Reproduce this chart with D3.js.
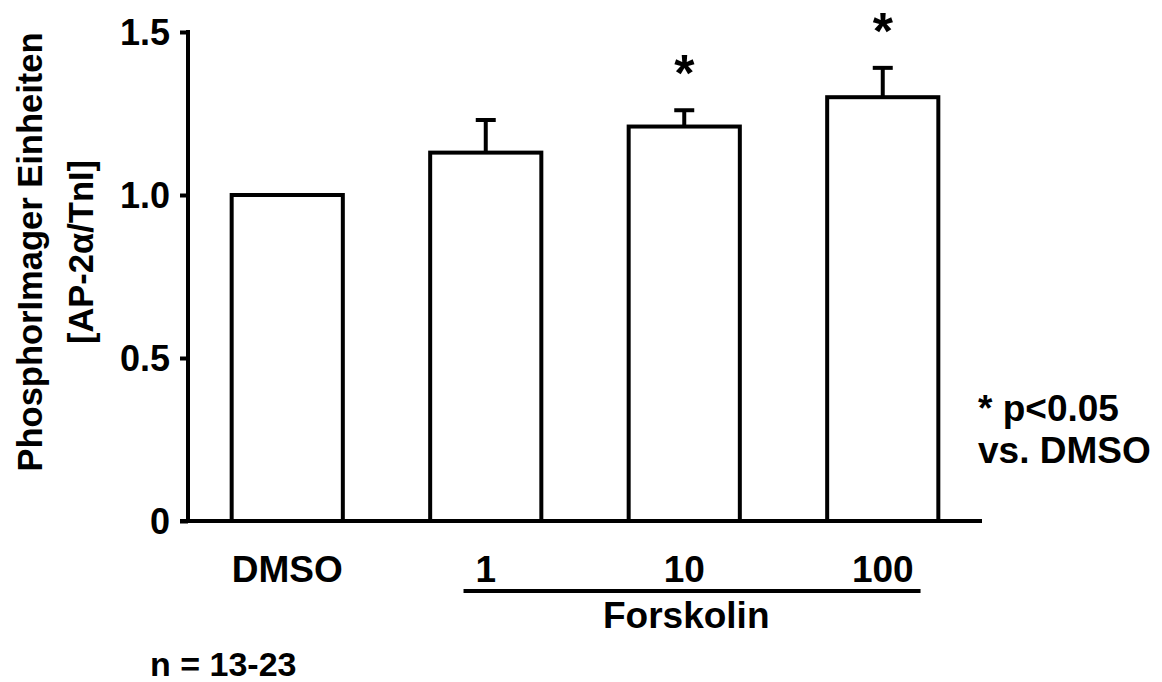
<!DOCTYPE html>
<html>
<head>
<meta charset="utf-8">
<script src="https://cdn.jsdelivr.net/npm/d3@7"></script>
<style>
  body { margin: 0; background: #fff; }
  svg text { font-family: "Liberation Sans", Arial, sans-serif; font-weight: bold; fill: #000; }
</style>
</head>
<body>
<div id="chart"></div>
<script>
// values
var categories = ["DMSO", "1", "10", "100"];
var means = [1.00, 1.13, 1.21, 1.30];
var errors = [0, 0.10, 0.05, 0.09];
var signif = [false, false, true, true];
var yTicks = [0, 0.5, 1.0, 1.5];
var yTickLabels = ["0", "0.5", "1.0", "1.5"];

var W = 1162, H = 682;
var svg = d3.select("#chart").append("svg").attr("width", W).attr("height", H);

var x = d3.scaleBand().domain(categories).range([188, 982]).paddingInner(0.44).paddingOuter(0.22);
var y = d3.scaleLinear().domain([0, 1.5]).range([521, 32]);

// y axis
var yAxis = d3.axisLeft(y).tickValues(yTicks)
    .tickFormat(function(d, i){ return yTickLabels[i]; })
    .tickSize(8).tickPadding(10);
var gy = svg.append("g").attr("transform", "translate(188,0)").call(yAxis);
gy.select(".domain").remove();
gy.selectAll(".tick line").attr("stroke", "#000").attr("stroke-width", 4);
gy.selectAll(".tick text").attr("font-size", "36px").attr("dy", "0.36em");
gy.append("line").attr("x1", 0).attr("x2", 0).attr("y1", y(1.5) - 2).attr("y2", y(0) + 2)
    .attr("stroke", "#000").attr("stroke-width", 4);

// x axis line
svg.append("line").attr("x1", 180).attr("x2", 982).attr("y1", y(0)).attr("y2", y(0))
    .attr("stroke", "#000").attr("stroke-width", 4);

function cx(i){ return x(categories[i]) + x.bandwidth() / 2; }

// bars
svg.selectAll("rect.bar").data(means).enter().append("rect")
    .attr("class", "bar")
    .attr("x", function(d, i){ return x(categories[i]); })
    .attr("y", function(d){ return y(d); })
    .attr("width", x.bandwidth())
    .attr("height", function(d){ return y(0) - y(d); })
    .attr("fill", "#fff").attr("stroke", "#000").attr("stroke-width", 4);

// error bars (upper only)
var idx = d3.range(means.length).filter(function(i){ return errors[i] > 0; });
svg.selectAll("line.stem").data(idx).enter().append("line")
    .attr("x1", cx).attr("x2", cx)
    .attr("y1", function(i){ return y(means[i]); })
    .attr("y2", function(i){ return y(means[i] + errors[i]); })
    .attr("stroke", "#000").attr("stroke-width", 4);
svg.selectAll("line.cap").data(idx).enter().append("line")
    .attr("x1", function(i){ return cx(i) - 10; })
    .attr("x2", function(i){ return cx(i) + 10; })
    .attr("y1", function(i){ return y(means[i] + errors[i]); })
    .attr("y2", function(i){ return y(means[i] + errors[i]); })
    .attr("stroke", "#000").attr("stroke-width", 4);

// significance stars
var sig = d3.range(means.length).filter(function(i){ return signif[i]; });
svg.selectAll("text.star").data(sig).enter().append("text")
    .attr("class", "star")
    .attr("x", cx)
    .attr("y", function(i){ return y(means[i] + errors[i]) - 19; })
    .attr("text-anchor", "middle").attr("font-size", "52px")
    .text("*");

// category labels
svg.selectAll("text.cat").data(categories).enter().append("text")
    .attr("class", "cat")
    .attr("x", function(d){ return x(d) + x.bandwidth() / 2; })
    .attr("y", 582)
    .attr("text-anchor", "middle").attr("font-size", "37px")
    .text(function(d){ return d; });

// Forskolin bracket
svg.append("line")
    .attr("x1", x("1") + x.bandwidth() * 0.3).attr("x2", x("100") + x.bandwidth() * 0.84)
    .attr("y1", 591).attr("y2", 591)
    .attr("stroke", "#000").attr("stroke-width", 4);
svg.append("text").attr("x", x("10") + x.bandwidth() / 2 + 2).attr("y", 628)
    .attr("text-anchor", "middle").attr("font-size", "37px").text("Forskolin");

svg.append("text").attr("x", 150).attr("y", 676).attr("font-size", "34px").text("n = 13-23");

// legend note
svg.append("text").attr("x", 978).attr("y", 421).attr("font-size", "37px").text("* p<0.05");
svg.append("text").attr("x", 978).attr("y", 463).attr("font-size", "37px").text("vs. DMSO");

// y title
var yt = svg.append("text").attr("transform", "translate(0,252) rotate(-90)")
    .attr("text-anchor", "middle").attr("font-size", "34.5px");
yt.append("tspan").attr("x", 0).attr("y", 42).text("PhosphorImager Einheiten");
yt.append("tspan").attr("x", 0).attr("y", 93).text("[AP-2α/TnI]");
</script>
</body>
</html>
